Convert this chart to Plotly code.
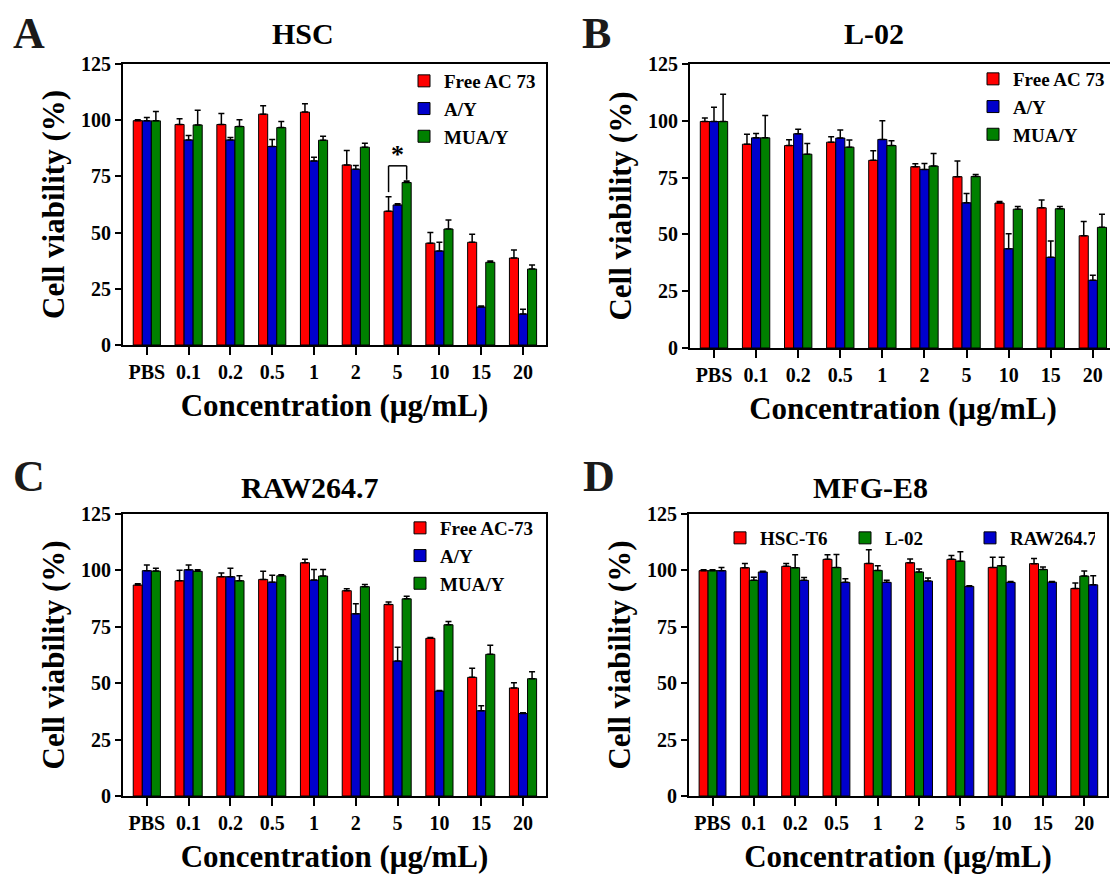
import plotly.graph_objects as go

W, H = 1118, 876
OFF = 8  # default page body margin in the browser
FONT = "Liberation Serif"

categories = ["PBS", "0.1", "0.2", "0.5", "1", "2", "5", "10", "15", "20"]
y_ticks = [0, 25, 50, 75, 100, 125]

# Panel A - HSC
hsc_free = [99.8, 98.1, 98.1, 102.7, 103.6, 80.1, 59.5, 45.3, 45.7, 38.7]
hsc_free_err = [0.4, 2.5, 4.9, 3.7, 3.7, 6.4, 6.5, 4.7, 3.6, 3.6]
hsc_ay = [99.7, 91.2, 91.2, 88.3, 81.9, 78.2, 62.3, 41.8, 16.9, 13.8]
hsc_ay_err = [1.5, 2.0, 1.1, 3.1, 1.6, 1.6, 0.5, 3.9, 0.4, 2.1]
hsc_mua = [99.7, 97.9, 97.2, 96.7, 91.1, 88.0, 72.3, 51.6, 36.8, 33.8]
hsc_mua_err = [4.2, 6.5, 3.0, 2.7, 1.8, 1.8, 0.7, 4.0, 0.6, 1.8]

# Panel B - L-02
l02_free = [99.7, 89.7, 89.1, 90.6, 82.6, 79.8, 75.4, 63.8, 61.7, 49.4]
l02_free_err = [1.5, 4.4, 2.6, 2.4, 4.2, 1.3, 6.9, 0.7, 3.4, 6.3]
l02_ay = [99.7, 92.5, 94.3, 92.4, 91.8, 78.6, 63.9, 43.7, 39.9, 29.8]
l02_ay_err = [6.3, 1.9, 2.0, 3.5, 8.2, 2.6, 4.1, 6.6, 7.2, 2.2]
l02_mua = [99.7, 92.5, 85.3, 88.4, 89.1, 80.1, 75.5, 61.1, 61.3, 53.1]
l02_mua_err = [12.0, 9.8, 4.7, 3.1, 2.1, 5.5, 0.9, 1.2, 1.0, 5.8]

# Panel C - RAW264.7
raw_free = [93.5, 95.4, 97.2, 96.0, 103.4, 91.0, 84.9, 69.9, 52.6, 47.9]
raw_free_err = [0.6, 4.7, 1.6, 3.6, 1.5, 0.9, 1.1, 0.4, 4.0, 2.3]
raw_ay = [99.9, 100.3, 97.2, 94.8, 95.7, 80.8, 59.8, 46.5, 37.8, 36.6]
raw_ay_err = [2.5, 2.1, 3.8, 3.0, 4.7, 4.4, 6.1, 0.3, 2.2, 0.3]
raw_mua = [99.7, 99.6, 95.4, 97.6, 97.5, 92.8, 87.4, 75.9, 62.8, 52.0]
raw_mua_err = [1.3, 0.7, 2.2, 0.5, 2.9, 1.0, 1.1, 1.4, 4.0, 3.1]

# Panel D - MFG-E8
mfg_hsc = [99.9, 101.2, 101.8, 104.9, 103.1, 103.4, 104.9, 101.3, 103.0, 92.0]
mfg_hsc_err = [0.4, 1.9, 1.3, 2.0, 6.1, 1.6, 1.7, 4.5, 2.3, 2.4]
mfg_l02 = [99.9, 95.6, 101.2, 101.3, 100.0, 99.3, 104.1, 102.1, 100.4, 97.5]
mfg_l02_err = [0.4, 1.4, 5.7, 5.8, 2.1, 1.3, 4.2, 3.7, 1.1, 2.2]
mfg_raw = [99.9, 99.3, 95.6, 94.7, 94.7, 95.3, 92.9, 94.7, 94.8, 93.6]
mfg_raw_err = [1.4, 0.3, 1.2, 1.6, 0.9, 1.3, 0.3, 0.4, 0.3, 4.0]

RED, BLUE, GREEN = "#FF0000", "#0000CC", "#008000"

panels = [
    dict(key="A", title="HSC", xa="x", ya="y", leg="legend",
         dom_x=(123, 546), dom_y=(64, 345), title_xy=(303, 33), letter_xy=(29, 34),
         series=[("Free AC 73", hsc_free, hsc_free_err, RED),
                 ("A/Y", hsc_ay, hsc_ay_err, BLUE),
                 ("MUA/Y", hsc_mua, hsc_mua_err, GREEN)]),
    dict(key="B", title="L-02", xa="x2", ya="y2", leg="legend2",
         dom_x=(690, 1116), dom_y=(64, 348), title_xy=(874, 33), letter_xy=(596, 34),
         series=[("Free AC 73", l02_free, l02_free_err, RED),
                 ("A/Y", l02_ay, l02_ay_err, BLUE),
                 ("MUA/Y", l02_mua, l02_mua_err, GREEN)]),
    dict(key="C", title="RAW264.7", xa="x3", ya="y3", leg="legend3",
         dom_x=(123, 546), dom_y=(514, 796), title_xy=(310, 487), letter_xy=(29, 476),
         series=[("Free AC-73", raw_free, raw_free_err, RED),
                 ("A/Y", raw_ay, raw_ay_err, BLUE),
                 ("MUA/Y", raw_mua, raw_mua_err, GREEN)]),
    dict(key="D", title="MFG-E8", xa="x4", ya="y4", leg="legend4",
         dom_x=(689, 1107), dom_y=(514, 796), title_xy=(870, 487), letter_xy=(599, 476),
         series=[("HSC-T6", mfg_hsc, mfg_hsc_err, RED),
                 ("L-02", mfg_l02, mfg_l02_err, GREEN),
                 ("RAW264.7", mfg_raw, mfg_raw_err, BLUE)]),
]


def px(x):
    return (x - OFF) / W


def py(y):
    return 1 - (y - OFF) / H


fig = go.Figure()
layout = dict(
    width=W, height=H, margin=dict(l=0, r=0, t=0, b=0, autoexpand=False),
    paper_bgcolor="white", plot_bgcolor="white",
    barmode="group", bargap=0.35, bargroupgap=0.0,
    font=dict(family=FONT, size=20, color="black"),
    annotations=[], shapes=[],
)

for i, p in enumerate(panels):
    for name, vals, errs, col in p["series"]:
        fig.add_trace(go.Bar(
            x=categories, y=vals, name=name, xaxis=p["xa"], yaxis=p["ya"],
            legend=p["leg"],
            marker=dict(color=col, line=dict(color="black", width=1)),
            error_y=dict(type="data", array=errs, arrayminus=[0] * len(errs),
                         symmetric=False, color="black", thickness=1.5, width=3),
        ))
    xname = "xaxis" if i == 0 else f"xaxis{i + 1}"
    yname = "yaxis" if i == 0 else f"yaxis{i + 1}"
    layout[xname] = dict(
        domain=[px(p["dom_x"][0]), px(p["dom_x"][1])], anchor=p["ya"],
        range=[-0.57, 9.55], type="category", automargin=False,
        showline=True, linecolor="black", linewidth=2, mirror=True,
        ticks="outside", ticklen=8, tickwidth=2, tickcolor="black",
        tickfont=dict(family=FONT, size=20, color="black", weight="bold"),
        showgrid=False, zeroline=False,
        title=dict(text="<b>Concentration (μg/mL)</b>", standoff=12,
                   font=dict(family=FONT, size=31, color="black")),
    )
    layout[yname] = dict(
        domain=[py(p["dom_y"][1]), py(p["dom_y"][0])], anchor=p["xa"],
        range=[0, 125], tickvals=y_ticks, automargin=False,
        showline=True, linecolor="black", linewidth=2, mirror=True,
        ticks="outside", ticklen=6, tickwidth=2, tickcolor="black",
        tickfont=dict(family=FONT, size=20, color="black", weight="bold"),
        showgrid=False, zeroline=False,
        title=dict(text="<b>Cell viability (%)</b>", standoff=7,
                   font=dict(family=FONT, size=31, color="black")),
    )
    layout["annotations"].append(dict(
        text=f"<b>{p['title']}</b>", x=px(p["title_xy"][0]), y=py(p["title_xy"][1]),
        xref="paper", yref="paper", showarrow=False, xanchor="center", yanchor="middle",
        font=dict(family=FONT, size=30, color="black")))
    layout["annotations"].append(dict(
        text=f"<b>{p['key']}</b>", x=px(p["letter_xy"][0]), y=py(p["letter_xy"][1]),
        xref="paper", yref="paper", showarrow=False, xanchor="center", yanchor="middle",
        font=dict(family=FONT, size=44, color="#1a1a1a")))

leg_common = dict(font=dict(family=FONT, size=19, color="black", weight="bold"),
                  bgcolor="rgba(0,0,0,0)", borderwidth=0, tracegroupgap=0,
                  xanchor="left", yanchor="top")
layout["legend"] = dict(leg_common, x=px(404), y=py(62))
layout["legend2"] = dict(leg_common, x=px(973), y=py(60))
layout["legend3"] = dict(leg_common, x=px(400), y=py(509))
layout["legend4"] = dict(leg_common, x=px(720), y=py(519), orientation="h",
                         entrywidth=80, entrywidthmode="pixels")

# Significance bracket in panel A at 5 µg/mL (Free AC 73 vs MUA/Y)
sig_idx = categories.index("5")
bar_off = 0.65 / 3
bracket_top = 79.7
left_bottom = hsc_free[sig_idx] + hsc_free_err[sig_idx] + 2
right_bottom = hsc_mua[sig_idx] + hsc_mua_err[sig_idx] + 0.5
xl, xr = sig_idx - bar_off, sig_idx + bar_off
for (x0, y0, x1, y1) in [(xl, left_bottom, xl, bracket_top),
                         (xl, bracket_top, xr, bracket_top),
                         (xr, bracket_top, xr, right_bottom)]:
    layout["shapes"].append(dict(type="line", xref="x", yref="y", x0=x0, y0=y0, x1=x1, y1=y1,
                                 line=dict(color="black", width=1.5)))
layout["annotations"].append(dict(text="<b>*</b>", x=sig_idx, y=bracket_top + 5,
                                  xref="x", yref="y", showarrow=False, yanchor="middle",
                                  font=dict(family=FONT, size=26, color="black")))

fig.update_layout(**layout)
fig.write_html("out.html")
